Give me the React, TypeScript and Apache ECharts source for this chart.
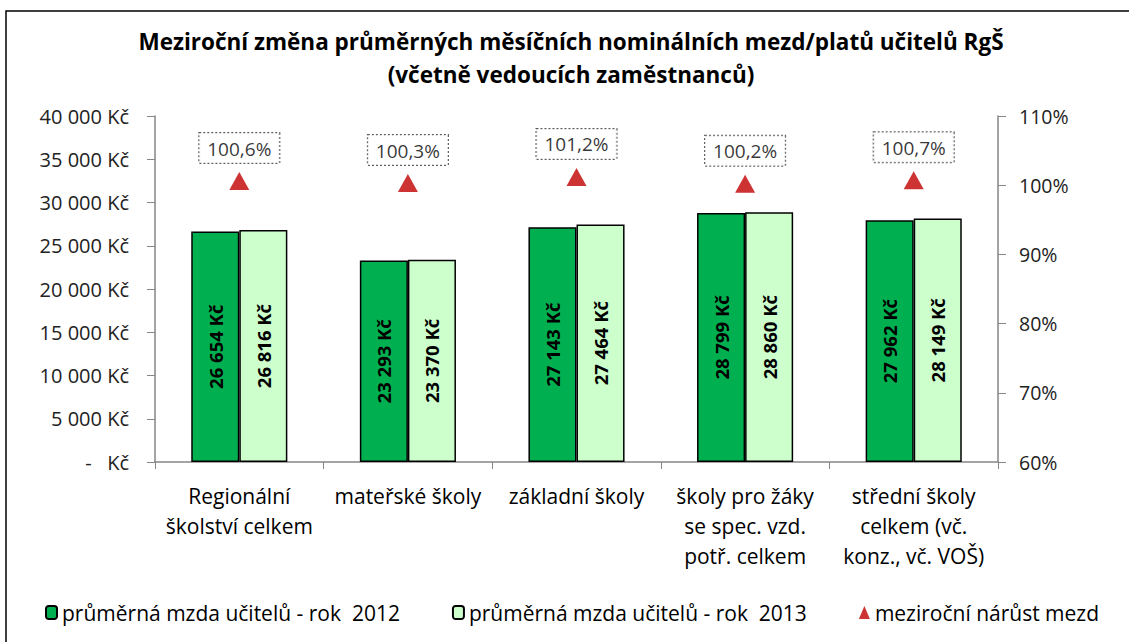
import React, { useEffect, useRef } from "react";
import * as echarts from "echarts";

const categories = [
  "Regionální\nškolství celkem",
  "mateřské školy",
  "základní školy",
  "školy pro žáky\nse spec. vzd.\npotř. celkem",
  "střední školy\ncelkem (vč.\nkonz., vč. VOŠ)",
];
const wages2012 = [26654, 23293, 27143, 28799, 27962];
const wages2013 = [26816, 23370, 27464, 28860, 28149];
const growth = [100.6, 100.3, 101.2, 100.2, 100.7];
const leftTicks = { min: 0, max: 40000, interval: 5000 };
const rightTicks = { min: 60, max: 110, interval: 10 };
const seriesNames = [
  "průměrná mzda učitelů - rok  2012",
  "průměrná mzda učitelů - rok  2013",
  "meziroční nárůst mezd",
];

const FONT = "'Open Sans', Lato, sans-serif";

const fmtKc = (v: number) =>
  v === 0 ? "-   Kč" : String(v).replace(/\B(?=(\d{3})+(?!\d))/g, " ") + " Kč";

export default function App() {
  const ref = useRef<HTMLDivElement>(null);
  useEffect(() => {
    document.body.style.margin = "0";
    const chart = echarts.init(ref.current!, null, { renderer: "svg" });
    const barLabel = {
      show: true,
      position: "inside",
      rotate: 90,
      formatter: (p: any) => fmtKc(p.value),
      color: "#000",
      fontWeight: "bold",
      fontSize: 18.5,
      fontFamily: FONT,
    };
    chart.setOption({
      animation: false,
      backgroundColor: "#fff",
      textStyle: { fontFamily: FONT },
      title: {
        text: "Meziroční změna průměrných měsíčních nominálních mezd/platů učitelů RgŠ\n(včetně vedoucích zaměstnanců)",
        left: 566,
        textAlign: "center",
        top: 20,
        textStyle: {
          fontFamily: FONT,
          fontSize: 22.5,
          fontWeight: "bold",
          color: "#000",
          lineHeight: 33,
        },
      },
      graphic: [
        {
          type: "rect",
          shape: { x: 6, y: 11, width: 1200, height: 700 },
          style: { fill: "none", stroke: "#000", lineWidth: 1.5 },
          silent: true,
          z: -1,
        },
      ],
      legend: {
        left: 40,
        top: 597,
        itemWidth: 11,
        itemHeight: 13,
        itemGap: 52,
        textStyle: { fontFamily: FONT, fontSize: 21, color: "#000" },
        data: seriesNames,
      },
      grid: { left: 155, right: 131, top: 116, bottom: 180 },
      xAxis: {
        type: "category",
        data: categories,
        axisLine: { lineStyle: { color: "#868686", width: 1.5 } },
        axisTick: { show: true, length: 7, lineStyle: { color: "#868686" } },
        axisLabel: {
          interval: 0,
          color: "#000",
          fontSize: 21,
          lineHeight: 30,
          margin: 19,
          fontFamily: FONT,
        },
      },
      yAxis: [
        {
          type: "value",
          ...leftTicks,
          splitLine: { show: false },
          axisLine: { show: true, lineStyle: { color: "#868686", width: 1.5 } },
          axisTick: { show: true, length: 8, lineStyle: { color: "#868686" } },
          axisLabel: {
            formatter: fmtKc,
            color: "#222",
            fontSize: 20,
            margin: 26,
            fontFamily: FONT,
          },
        },
        {
          type: "value",
          ...rightTicks,
          position: "right",
          splitLine: { show: false },
          axisLine: { show: true, lineStyle: { color: "#868686", width: 1.5 } },
          axisTick: { show: true, length: 8, lineStyle: { color: "#868686" } },
          axisLabel: {
            formatter: (v: number) => v + "%",
            color: "#222",
            fontSize: 19.5,
            margin: 21,
            fontFamily: FONT,
          },
        },
      ],
      series: [
        {
          name: seriesNames[0],
          type: "bar",
          data: wages2012,
          barCategoryGap: "43%",
          barGap: "0%",
          itemStyle: { color: "#00B050", borderColor: "#000", borderWidth: 1.5 },
          label: barLabel,
        },
        {
          name: seriesNames[1],
          type: "bar",
          data: wages2013,
          barCategoryGap: "43%",
          barGap: "0%",
          itemStyle: { color: "#CCFFCC", borderColor: "#000", borderWidth: 1.5 },
          label: barLabel,
        },
        {
          name: seriesNames[2],
          type: "scatter",
          yAxisIndex: 1,
          data: growth,
          symbol: "triangle",
          symbolSize: [20, 18],
          itemStyle: { color: "#C00000" },
          label: {
            show: true,
            position: "top",
            distance: 9,
            formatter: (p: any) => p.value.toFixed(1).replace(".", ",") + "%",
            color: "#000",
            fontSize: 19,
            fontFamily: FONT,
            backgroundColor: "#fff",
            borderColor: "#333",
            borderType: "dotted",
            borderWidth: 1,
            padding: [6, 8, 5, 8],
          },
        },
      ],
    });
    return () => chart.dispose();
  }, []);
  return (
    <div
      ref={ref}
      style={{ position: "absolute", left: 0, top: 0, width: 1129, height: 642 }}
    />
  );
}
